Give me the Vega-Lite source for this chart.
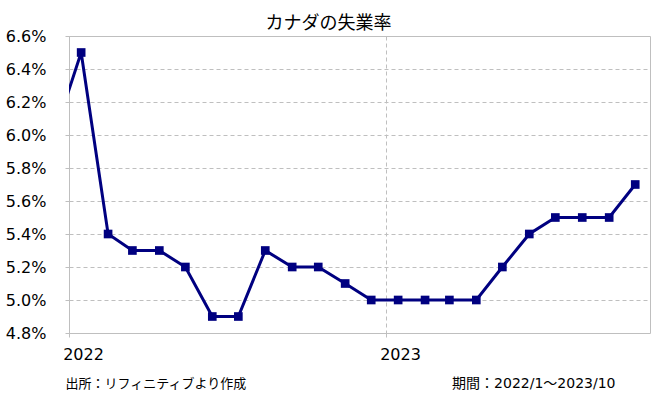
{
  "$schema": "https://vega.github.io/schema/vega-lite/v6.json",
  "width": 581,
  "height": 297,
  "autosize": {"type": "none"},
  "padding": {"left": 69, "top": 36, "right": 11, "bottom": 63},
  "background": "white",
  "config": {
    "view": {"stroke": "#bfbfbf", "strokeWidth": 1},
    "font": "DejaVu Sans"
  },
  "title": {
    "text": "カナダの失業率",
    "font": "Noto Sans CJK JP",
    "fontSize": 18,
    "fontWeight": "normal",
    "color": "#000000",
    "anchor": "middle",
    "frame": "group",
    "dx": -31,
    "offset": -5
  },
  "data": {
    "values": [
      {"date": "2021-12-15", "rate": 6.0},
      {"date": "2022-01-15", "rate": 6.5},
      {"date": "2022-02-15", "rate": 5.4},
      {"date": "2022-03-15", "rate": 5.3},
      {"date": "2022-04-15", "rate": 5.3},
      {"date": "2022-05-15", "rate": 5.2},
      {"date": "2022-06-15", "rate": 4.9},
      {"date": "2022-07-15", "rate": 4.9},
      {"date": "2022-08-15", "rate": 5.3},
      {"date": "2022-09-15", "rate": 5.2},
      {"date": "2022-10-15", "rate": 5.2},
      {"date": "2022-11-15", "rate": 5.1},
      {"date": "2022-12-15", "rate": 5.0},
      {"date": "2023-01-15", "rate": 5.0},
      {"date": "2023-02-15", "rate": 5.0},
      {"date": "2023-03-15", "rate": 5.0},
      {"date": "2023-04-15", "rate": 5.0},
      {"date": "2023-05-15", "rate": 5.2},
      {"date": "2023-06-15", "rate": 5.4},
      {"date": "2023-07-15", "rate": 5.5},
      {"date": "2023-08-15", "rate": 5.5},
      {"date": "2023-09-15", "rate": 5.5},
      {"date": "2023-10-15", "rate": 5.7}
    ]
  },
  "encoding": {
    "x": {
      "field": "date",
      "type": "temporal",
      "scale": {"type": "utc", "domain": [{"year": 2022, "month": 1, "date": 1, "utc": true}, {"year": 2023, "month": 11, "date": 1, "utc": true}], "nice": false},
      "axis": {
        "values": [{"year": 2022, "month": 1, "date": 1, "utc": true}, {"year": 2023, "month": 1, "date": 1, "utc": true}],
        "format": "%Y",
        "formatType": "utc",
        "labelFont": "DejaVu Sans",
        "labelFontSize": 16,
        "labelColor": "#000000",
        "labelAlign": "center",
        "labelOffset": 14,
        "labelPadding": 6,
        "tickSize": 7,
        "tickColor": "#bfbfbf",
        "tickDash": [4, 3],
        "grid": true,
        "gridColor": "#bfbfbf",
        "gridDash": [4, 3],
        "domain": false,
        "title": "出所：リフィニティブより作成",
        "titleFont": "Noto Sans CJK JP",
        "titleFontSize": 13,
        "titleFontWeight": "normal",
        "titleColor": "#000000",
        "titleAlign": "left",
        "titleAnchor": "start",
        "titleBaseline": "middle",
        "titleX": -4,
        "titleY": 50
      }
    }
  },
  "layer": [
    {
      "mark": {"type": "line", "color": "#000080", "strokeWidth": 3, "clip": true},
      "encoding": {
        "y": {
          "field": "rate",
          "type": "quantitative",
          "scale": {"domain": [4.8, 6.6], "nice": false, "zero": false},
          "axis": {
            "values": [4.8, 5.0, 5.2, 5.4, 5.6, 5.8, 6.0, 6.2, 6.4, 6.6],
            "labelExpr": "format(datum.value, '.1f') + '%'",
            "labelFont": "DejaVu Sans",
            "labelFontSize": 16,
            "labelColor": "#000000",
            "labelPadding": 17,
            "tickSize": 6,
            "tickColor": "#bfbfbf",
            "tickDash": [4, 3],
            "grid": true,
            "gridColor": "#bfbfbf",
            "gridDash": [4, 3],
            "domain": false,
            "title": null
          }
        }
      }
    },
    {
      "mark": {"type": "point", "shape": "square", "filled": true, "size": 75, "color": "#000080", "opacity": 1, "clip": true},
      "encoding": {
        "y": {
          "field": "rate",
          "type": "quantitative",
          "scale": {"domain": [4.8, 6.6], "nice": false, "zero": false},
          "axis": {
            "orient": "right",
            "labels": false,
            "ticks": false,
            "domain": false,
            "grid": false,
            "title": "期間：2022/1～2023/10",
            "titleFont": "DejaVu Sans, Noto Sans CJK JP",
            "titleFontSize": 14,
            "titleFontWeight": "normal",
            "titleColor": "#000000",
            "titleAngle": 0,
            "titleAlign": "right",
            "titleBaseline": "middle",
            "titleX": -35,
            "titleY": 347
          }
        }
      }
    }
  ],
  "resolve": {"axis": {"y": "independent"}}
}
